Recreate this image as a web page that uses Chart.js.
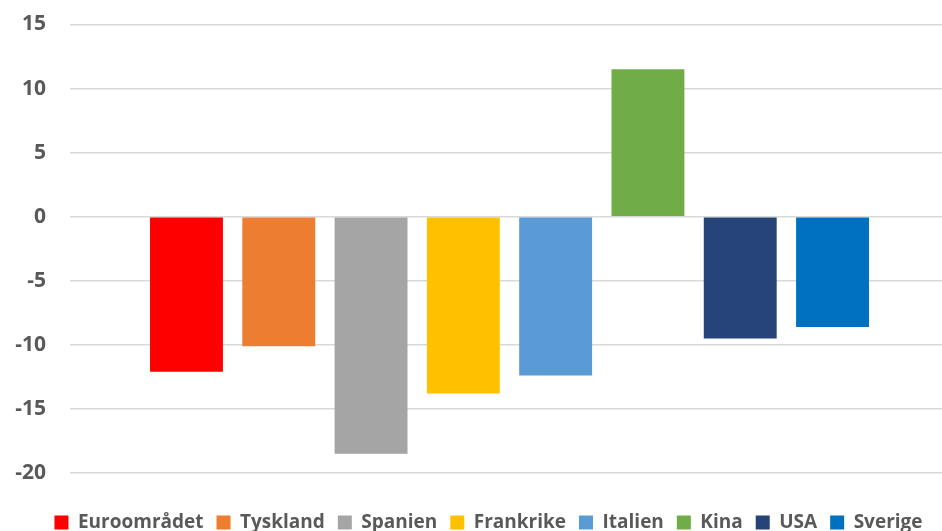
<!DOCTYPE html>
<html>
<head>
<meta charset="utf-8">
<script src="https://cdn.jsdelivr.net/npm/chart.js@4.4.0/dist/chart.umd.min.js"></script>
<style>
	html, body { margin: 0; padding: 0; background: #fff; overflow: hidden; }
	.wrap { width: 977px; height: 531px; }
</style>
</head>
<body>
<div class="wrap"><canvas id="chart"></canvas></div>
<script>
const countries = ['Euroområdet', 'Tyskland', 'Spanien', 'Frankrike', 'Italien', 'Kina', 'USA', 'Sverige'];
const values = [-12.1, -10.1, -18.5, -13.8, -12.4, 11.5, -9.5, -8.6];
const colors = ['#FF0000', '#ED7D31', '#A5A5A5', '#FFC000', '#5B9BD5', '#70AD47', '#264478', '#0070C0'];
const yMin = -20, yMax = 15, yStep = 5;

const FONT = '"Open Sans", sans-serif';

new Chart(document.getElementById('chart'), {
	type: 'bar',
	data: {
		labels: [''],
		datasets: countries.map((c, i) => ({
			label: c,
			data: [values[i]],
			backgroundColor: colors[i],
			categoryPercentage: 0.84,
			barPercentage: 0.79
		}))
	},
	options: {
		responsive: true,
		maintainAspectRatio: false,
		animation: false,
		layout: { padding: { top: 0, bottom: -11 } },
		plugins: {
			tooltip: { enabled: false },
			legend: {
				position: 'bottom',
				labels: {
					boxWidth: 14, boxHeight: 14, padding: 13,
					color: '#595959',
					font: { family: FONT, size: 19, weight: 'bold' }
				}
			}
		},
		scales: {
			x: {
				display: true,
				ticks: { display: false },
				grid: { display: false },
				border: { display: false },
				afterFit: s => { s.height = 27; }
			},
			y: {
				min: yMin, max: yMax,
				ticks: { stepSize: yStep, color: '#595959', padding: 24, font: { family: FONT, size: 21, weight: 'bold' } },
				grid: { color: '#d9d9d9', lineWidth: 1.5, drawTicks: false },
				border: { display: false },
				afterFit: s => { s.width = 70; s.paddingTop = 24.5; s.paddingBottom = 0; }
			},
			y2: {
				position: 'right',
				display: true,
				ticks: { display: false },
				grid: { display: false },
				border: { display: false },
				afterFit: s => { s.width = 28; }
			}
		}
	}
});
</script>
</body>
</html>
